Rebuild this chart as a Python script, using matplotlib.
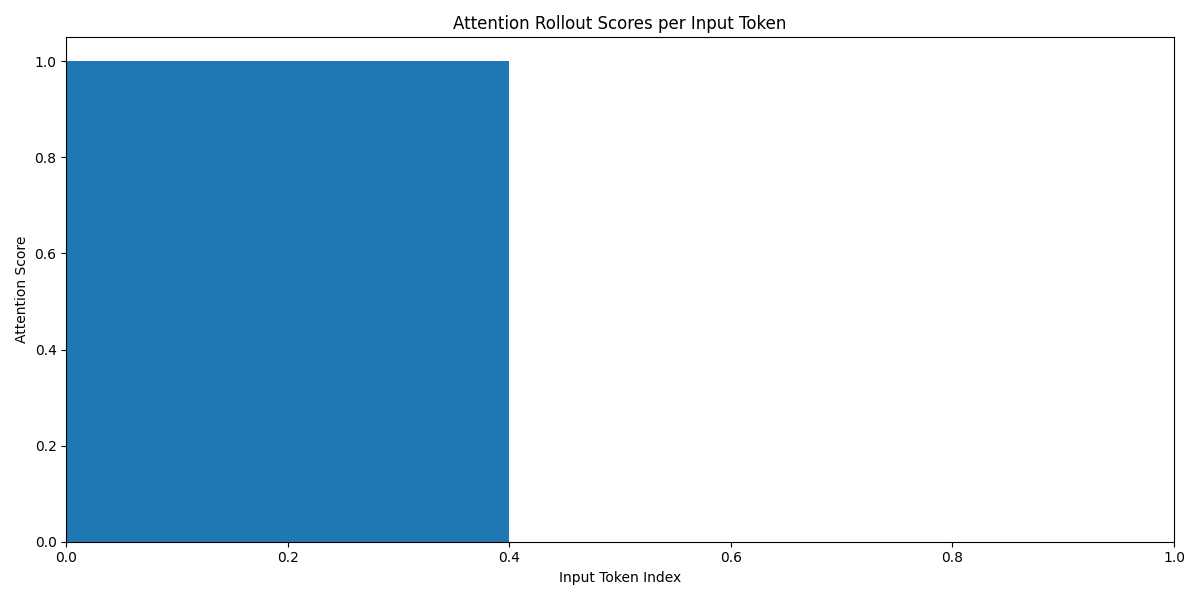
import matplotlib
matplotlib.use("Agg")
import matplotlib.pyplot as plt

token_index = [0]
scores = [1.0]

fig, ax = plt.subplots(figsize=(12, 6), dpi=100)
ax.bar(token_index, scores, width=0.8, color="#1f77b4")
ax.set_xlim(0, 1)
ax.set_title("Attention Rollout Scores per Input Token")
ax.set_xlabel("Input Token Index")
ax.set_ylabel("Attention Score")
fig.tight_layout()
fig.savefig("out.png")
